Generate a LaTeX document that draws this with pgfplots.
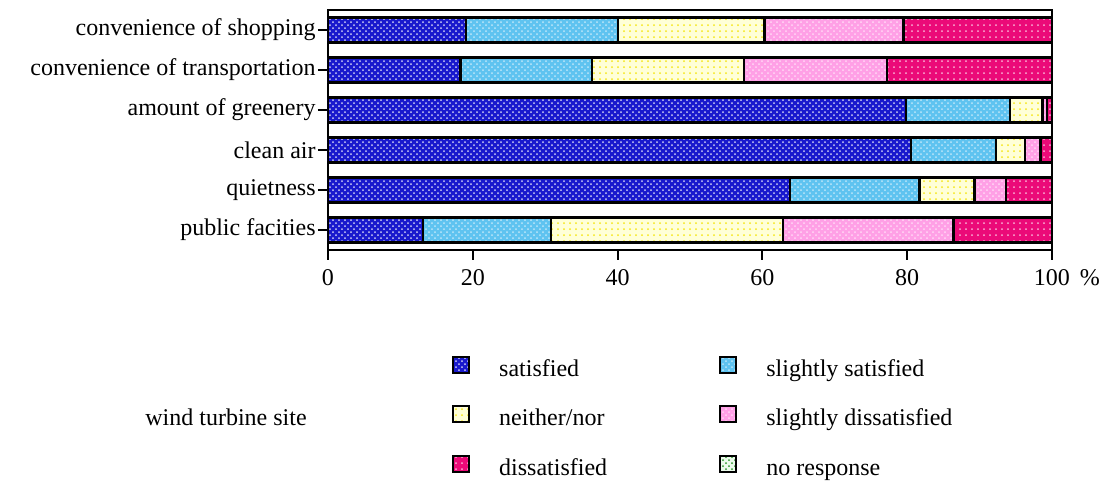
\documentclass[border=0pt]{standalone}
\usepackage{pgfplots}
\pgfplotsset{compat=1.18}
\usepackage{fontspec}
\setmainfont{Liberation Serif}
\usetikzlibrary{patterns}
\definecolor{cSat}{RGB}{25,25,205}
\definecolor{cSSat}{RGB}{95,195,240}
\definecolor{cNeit}{RGB}{255,255,215}
\definecolor{cNeitDot}{RGB}{245,230,20}
\definecolor{cSDis}{RGB}{255,160,230}
\definecolor{cDis}{RGB}{235,10,120}
\definecolor{cNoR}{RGB}{235,250,235}
\definecolor{cNoRDot}{RGB}{40,150,40}
\begin{document}
\begin{tikzpicture}[font=\fontsize{12}{14}\selectfont]
\begin{axis}[
  name=ax,
  scale only axis,
  width=362pt, height=120pt,
  xbar stacked,
  bar width=12.5pt,
  xmin=0, xmax=100,
  ymin=-0.5, ymax=5.5,
  xtick={0,20,40,60,80,100},
  xticklabels={0,20,40,60,80,{100\rlap{\hspace{5pt}\%}}},
  ytick={0,1,2,3,4,5},
  yticklabels={public facities,quietness,clean air,amount of greenery,convenience of transportation,convenience of shopping},
  tick align=outside,
  major tick length=5pt,
  xtick pos=bottom, ytick pos=left,
  axis line style={line width=1pt},
  tick style={line width=1pt, black},
  yticklabel style={inner sep=1pt},
  xticklabel style={inner sep=2pt, yshift=-2.5pt},
  legend columns=2,
  legend image code/.code={\draw[#1] (0pt,-1.3pt) rectangle (8pt,6.7pt);},
  legend style={draw=none, fill=none, inner sep=0pt, outer sep=0pt,
    at={(axis description cs:0.1713,-0.44)}, anchor=north west,
    row sep=11.5pt, column sep=0pt,
    nodes={inner sep=0pt, text height=9pt, text depth=3pt, anchor=west},
    /tikz/every odd column/.append style={column sep=14.5pt},
    /tikz/every even column/.append style={column sep=0pt}},
]
\addplot[draw=black, line width=1.1pt, fill=cSat, postaction={pattern=crosshatch dots, pattern color=white!80!cSat}] coordinates {(13.1,0) (63.8,1) (80.5,2) (79.8,3) (18.3,4) (19.1,5)};
\addlegendentry{\makebox[110pt][l]{satisfied}}
\addplot[draw=black, line width=1.1pt, fill=cSSat, postaction={pattern=crosshatch dots, pattern color=white!60!cSSat}] coordinates {(17.7,0) (17.9,1) (11.8,2) (14.4,3) (18.2,4) (21.0,5)};
\addlegendentry{slightly satisfied}
\addplot[draw=black, line width=1.1pt, fill=cNeit, postaction={pattern=dots, pattern color=cNeitDot}] coordinates {(32.0,0) (7.6,1) (4.0,2) (4.5,3) (21.0,4) (20.2,5)};
\addlegendentry{\makebox[110pt][l]{neither/nor}}
\addplot[draw=black, line width=1.1pt, fill=cSDis, postaction={pattern=crosshatch dots, pattern color=white!60!cSDis}] coordinates {(23.6,0) (4.4,1) (2.1,2) (0.6,3) (19.7,4) (19.2,5)};
\addlegendentry{slightly dissatisfied}
\addplot[draw=black, line width=1.1pt, fill=cDis, postaction={pattern=dots, pattern color=white!70!cDis}] coordinates {(13.6,0) (6.3,1) (1.6,2) (0.7,3) (22.8,4) (20.5,5)};
\addlegendentry{\makebox[110pt][l]{dissatisfied}}
\addlegendimage{fill=cNoR, draw=black, line width=1.1pt, postaction={pattern=crosshatch dots, pattern color=cNoRDot}}
\addlegendentry{no response}
\end{axis}
\node at ([shift={(-51pt,-83.5pt)}]ax.south west) {wind turbine site};
\path ([shift={(-164pt,-115.5pt)}]ax.south west) rectangle ([shift={(391pt,125pt)}]ax.south west);
\end{tikzpicture}
\end{document}
